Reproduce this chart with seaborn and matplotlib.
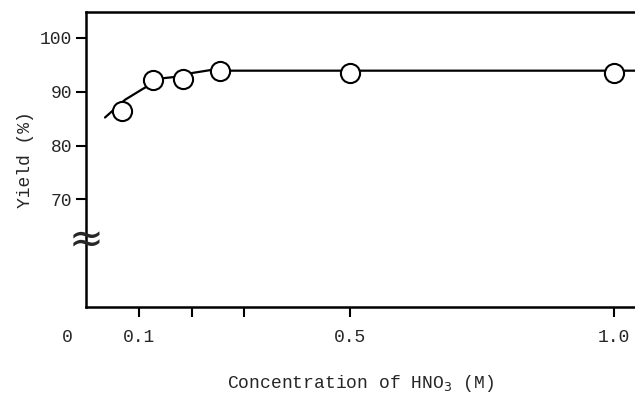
import matplotlib
matplotlib.use("Agg")
import matplotlib.pyplot as plt
import seaborn as sns
import pandas as pd

# Measured points
conc = [0.068, 0.127, 0.183, 0.254, 0.5, 1.0]
yield_pct = [86.5, 92.1, 92.4, 93.9, 93.4, 93.4]

# Hand-drawn smooth curve
fit_x = [0.036, 0.052, 0.074, 0.109, 0.146, 0.165, 0.203, 0.235, 0.273, 0.5, 1.0, 1.04]
fit_y = [85.2, 86.6, 88.5, 90.6, 92.5, 92.7, 93.5, 94.0, 93.9, 93.9, 93.9, 93.9]

xtick_pos = [0.1, 0.2, 0.3, 0.5, 1.0]
xtick_labels = ["0.1", "", "", "0.5", "1.0"]
ytick_pos = [70, 80, 90, 100]
ytick_labels = ["70", "80", "90", "100"]

sns.set_style("ticks")
plt.rcParams["font.family"] = ["Liberation Mono", "DejaVu Sans"]

fig = plt.figure(figsize=(6.35, 3.97), dpi=100)
ax = fig.add_axes([86 / 635, 1 - 307 / 397, 1 - 86 / 635, (307 - 12) / 397])

pts = pd.DataFrame({"x": conc, "y": yield_pct})
fit = pd.DataFrame({"x": fit_x, "y": fit_y})

sns.lineplot(data=fit, x="x", y="y", ax=ax, color="black", lw=1.6,
             sort=False, estimator=None, zorder=2)
sns.scatterplot(data=pts, x="x", y="y", ax=ax, s=190, facecolor="white",
                edgecolor="black", linewidth=1.5, zorder=3)

ax.set_xlim(0, 1.04)
ax.set_ylim(50, 104.8)

ax.set_xticks(xtick_pos)
ax.set_xticklabels(xtick_labels, fontsize=13)
ax.set_yticks(ytick_pos)
ax.set_yticklabels(ytick_labels, fontsize=13)
ax.tick_params(axis="both", direction="out", length=7, width=1.5, color="black", pad=3)
ax.tick_params(axis="x", pad=9)

for side in ["left", "top", "bottom"]:
    ax.spines[side].set_linewidth(1.8)
    ax.spines[side].set_color("black")
ax.spines["right"].set_visible(False)

ax.text(-0.036, -0.105, "0", transform=ax.get_xaxis_transform(),
        ha="center", va="center", fontsize=13, clip_on=False)

# axis break symbol
ax.text(0, 62.4, "≈", ha="center", va="center", fontsize=30,
        family="DejaVu Sans", clip_on=False, zorder=5)

ax.set_xlabel("Concentration of HNO$_3$ (M)", fontsize=13, labelpad=19)
ax.set_ylabel("Yield (%)", fontsize=13, labelpad=4)

fig.savefig("out.png", dpi=100)
